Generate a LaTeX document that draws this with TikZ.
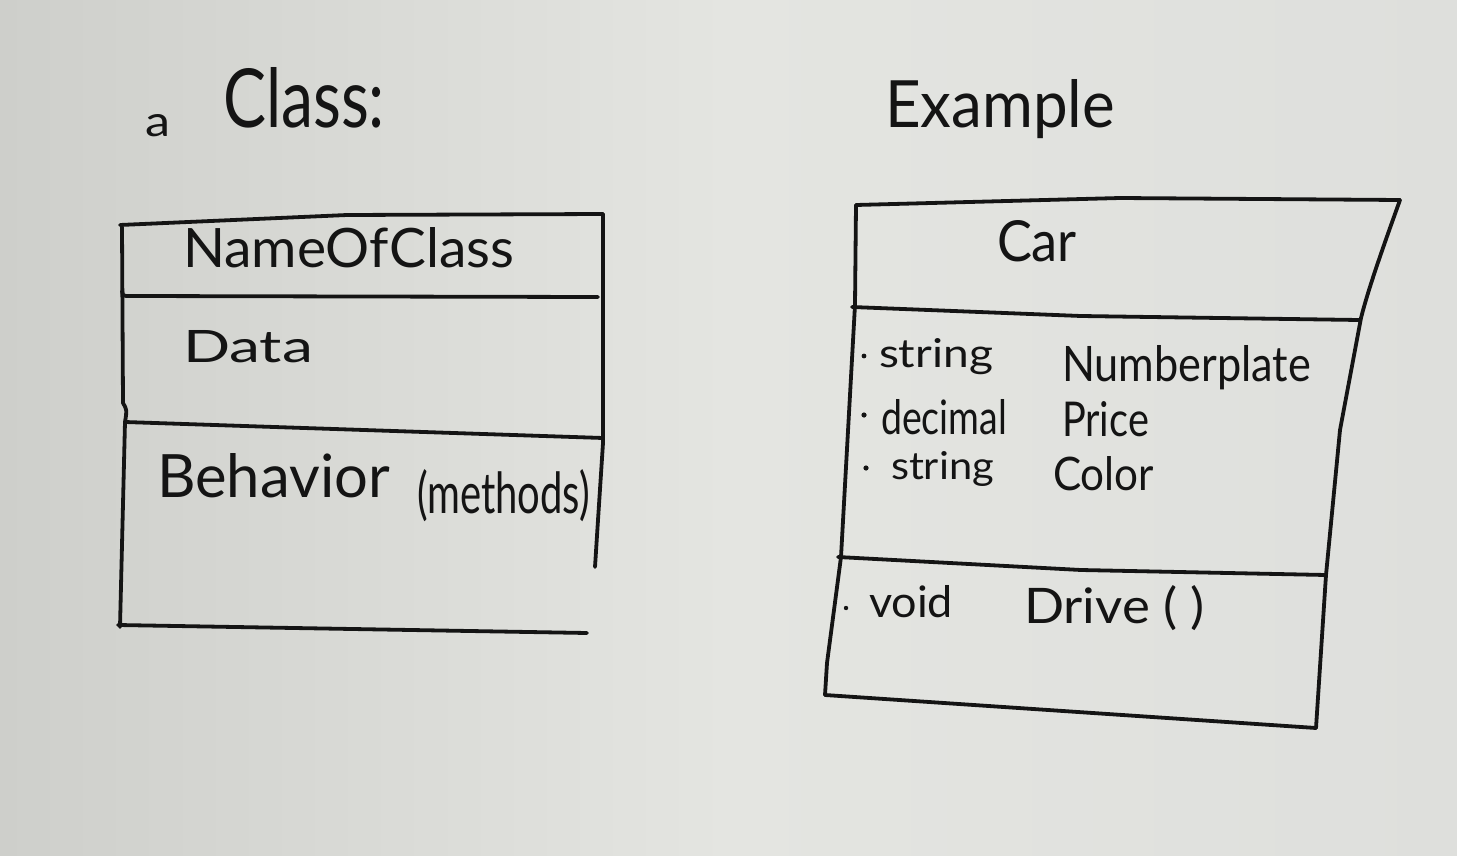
\documentclass[tikz,border=0pt]{standalone}
\usepackage{fontspec}
\setmainfont{Lato}
\usepackage{graphicx}
\definecolor{board}{RGB}{228,229,225}
\definecolor{boardL}{RGB}{206,207,203}
\definecolor{boardR}{RGB}{222,223,220}
\definecolor{ink}{RGB}{20,20,20}
% handwritten word: width, height above baseline, text
\newcommand{\hand}[3]{\resizebox{#1pt}{#2pt}{#3}}
\tikzset{
  handline/.style={draw=ink, line width=3.8pt, line cap=round, line join=round},
  handtext/.style={text=ink, inner sep=0pt, outer sep=0pt, anchor=base west,
                   font=\fontsize{20}{24}\selectfont},
  dotmark/.style={fill=ink}
}
\begin{document}
\begin{tikzpicture}[x=1pt,y=-1pt]
% whiteboard
\shade[left color=boardL, right color=boardR, middle color=board] (0,0) rectangle (1457,856);
\useasboundingbox (0,0) rectangle (1457,856);

% headings
\node[handtext] (a)       at (145,137) {\hand{25}{22}{a}};
\node[handtext] (class)   at (223,128) {\hand{162}{60}{Class:}};
\node[handtext] (example) at (885,128) {\hand{230}{48}{Example}};

% generic class box
\draw[handline] (120,225) -- (347,215) -- (603,214);
\draw[handline] (122,227) -- (123,403) .. controls (127,410) .. (125,422) -- (120,627);
\draw[handline] (122,291) .. controls (123,296) .. (130,296) -- (598,297);
\draw[handline] (125,422) -- (603,438);
\draw[handline] (603,214) -- (603,443) -- (598,520) -- (595,567);
\draw[handline] (118,625) -- (587,633);

\node[handtext] (name)     at (183,267) {\hand{331}{40}{NameOfClass}};
\node[handtext] (data)     at (183,362) {\hand{130}{32}{Data}};
\node[handtext] (behavior) at (157,497) {\hand{233}{44}{Behavior}};
\node[handtext] (methods)  at (417,513) {\hand{173}{44}{(methods)}};

% example class box
\draw[handline] (856,205) -- (1120,198) -- (1400,200);
\draw[handline] (1400,200) .. controls (1382,250) and (1368,290) .. (1361,318)
                -- (1340,430) -- (1326,575) -- (1316,728);
\draw[handline] (856,205) -- (855,305) -- (841,557) -- (827,663) -- (825,695);
\draw[handline] (852,307) -- (1081,316) -- (1359,320);
\draw[handline] (838,557) -- (1081,570) -- (1326,575);
\draw[handline] (825,695) -- (1316,728);

\node[handtext] (car) at (997,261) {\hand{80}{41}{Car}};

\fill[dotmark] (864,356) circle (2.4);
\node[handtext] (t1) at (879,367)  {\hand{114}{29}{string}};
\node[handtext] (n1) at (1062,381) {\hand{249}{36}{Numberplate}};

\fill[dotmark] (864,415) circle (2.6);
\node[handtext] (t2) at (881,434)  {\hand{126}{35}{decimal}};
\node[handtext] (n2) at (1062,436) {\hand{87}{35}{Price}};

\fill[dotmark] (866,468) circle (2.6);
\node[handtext] (t3) at (891,479)  {\hand{103}{28}{string}};
\node[handtext] (n3) at (1053,490) {\hand{101}{34}{Color}};

\fill[dotmark] (846,608) circle (2.2);
\node[handtext] (t4) at (869,617)  {\hand{84}{32}{void}};
\node[handtext] (n4) at (1024,623) {\hand{181}{38}{Drive ( )}};
\end{tikzpicture}
\end{document}
